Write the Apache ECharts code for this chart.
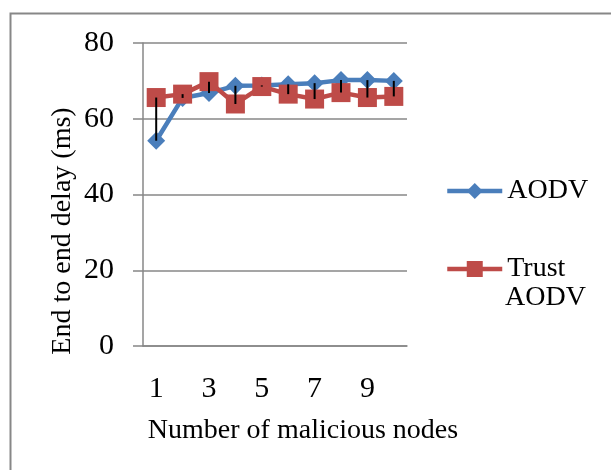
<!DOCTYPE html>
<html>
<head>
<meta charset="utf-8">
<script src="https://cdn.jsdelivr.net/npm/echarts@6/dist/echarts.min.js"></script>
<style>html,body{margin:0;padding:0;background:#fff;}#c{width:611px;height:470px;}</style>
</head>
<body>
<div id="c"></div>
<script>
var categories = ['1','2','3','4','5','6','7','8','9','10'];
var aodv = [54.2, 65.5, 66.8, 68.7, 68.8, 69.1, 69.4, 70.2, 70.2, 70.0];
var trustAodv = [65.6, 66.5, 69.8, 63.9, 68.5, 66.5, 65.2, 66.9, 65.6, 65.9];
var yTicks = [0, 20, 40, 60, 80];

var FONT = 'Liberation Serif';
var GRID = '#878787';
var BLUE = '#4a7ebb';
var RED = '#be4b48';
var hiLo = categories.map(function (c, i) {
  return [i, Math.min(aodv[i], trustAodv[i]), Math.max(aodv[i], trustAodv[i])];
});

var chart = echarts.init(document.getElementById('c'), null, {renderer: 'canvas'});
chart.setOption({
  animation: false,
  backgroundColor: '#ffffff',
  graphic: [{
    type: 'rect', left: 8, top: 11, z: -10,
    shape: {width: 700, height: 600},
    style: {fill: 'none', stroke: GRID, lineWidth: 2}
  }, {
    type: 'text', left: 505, top: 284,
    style: {text: 'AODV', font: '28px "Liberation Serif"', fill: '#000'}
  }],
  grid: {left: 143, right: 204, top: 43, bottom: 124, containLabel: false},
  xAxis: {
    type: 'category',
    data: categories,
    boundaryGap: true,
    name: 'Number of malicious nodes',
    nameLocation: 'middle',
    nameGap: 71,
    nameTextStyle: {fontFamily: FONT, fontSize: 28, color: '#000', padding: [0, 0, 0, 56]},
    axisLine: {lineStyle: {color: GRID, width: 1.5}},
    axisTick: {show: false},
    axisLabel: {interval: 1, margin: 28, fontFamily: FONT, fontSize: 30, color: '#000'},
    splitLine: {show: false}
  },
  yAxis: {
    type: 'value',
    min: yTicks[0], max: yTicks[yTicks.length - 1], interval: 20,
    name: 'End to end delay (ms)',
    nameLocation: 'middle',
    nameRotate: 90,
    nameGap: 66,
    nameTextStyle: {fontFamily: FONT, fontSize: 28, color: '#000', padding: [0, 73, 0, 0]},
    axisLine: {show: true, lineStyle: {color: GRID, width: 1.5}},
    axisTick: {show: true, inside: false, length: 10, lineStyle: {color: GRID, width: 1.5}},
    axisLabel: {margin: 29, fontFamily: FONT, fontSize: 30, color: '#000'},
    splitLine: {show: true, lineStyle: {color: GRID, width: 1.5}}
  },
  legend: [{
    orient: 'vertical', left: 445, top: 177, padding: 0,
    itemWidth: 55, itemHeight: 20, itemGap: 10, itemTextGap: 1,
    data: ['AODV'],
    lineStyle: {width: 4.5},
    textStyle: {fontFamily: FONT, fontSize: 28, color: '#000'}
  }, {
    orient: 'vertical', left: 445, top: 255, padding: 0,
    itemWidth: 55, itemHeight: 20, itemGap: 10, itemTextGap: 1,
    data: ['Trust AODV'],
    lineStyle: {width: 4.5},
    formatter: function () { return 'Trust'; },
    textStyle: {fontFamily: FONT, fontSize: 28, color: '#000'}
  }],
  series: [{
    name: 'AODV',
    type: 'line',
    data: aodv,
    showAllSymbol: true,
    symbol: 'diamond',
    symbolSize: 18,
    lineStyle: {color: BLUE, width: 4.5},
    itemStyle: {color: BLUE},
    z: 2
  }, {
    name: 'Trust AODV',
    type: 'line',
    data: trustAodv,
    showAllSymbol: true,
    symbol: 'rect',
    symbolSize: 19,
    lineStyle: {color: RED, width: 4.5},
    itemStyle: {color: RED},
    z: 3
  }, {
    name: 'hilo',
    type: 'custom',
    data: hiLo,
    z: 5,
    silent: true,
    renderItem: function (params, api) {
      var p1 = api.coord([api.value(0), api.value(1)]);
      var p2 = api.coord([api.value(0), api.value(2)]);
      return {
        type: 'line',
        shape: {x1: p1[0], y1: p1[1], x2: p2[0], y2: p2[1]},
        style: {stroke: '#000', lineWidth: 2}
      };
    }
  }]
});
</script>
</body>
</html>
